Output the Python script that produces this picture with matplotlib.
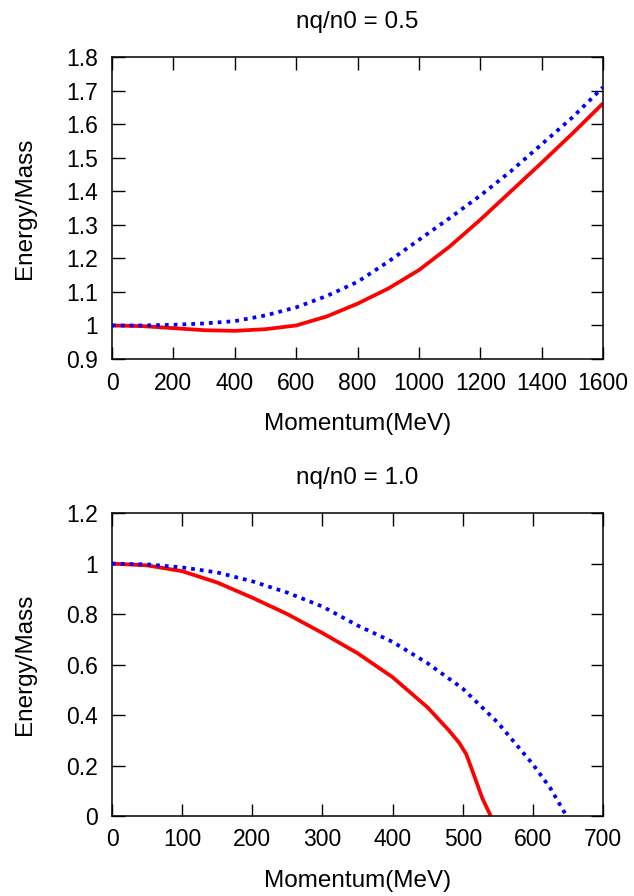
import matplotlib
matplotlib.use("Agg")
import matplotlib.pyplot as plt
from matplotlib.ticker import FuncFormatter

plt.rcParams['font.family'] = ['Liberation Sans', 'DejaVu Sans']

# Top panel (nq/n0 = 0.5)
p_top = [0, 100, 200, 300, 400, 500, 600, 700, 800, 900, 1000, 1100, 1200, 1300, 1400, 1500, 1600]
red_top = [1.0, 0.998, 0.992, 0.986, 0.984, 0.989, 1.0, 1.027, 1.065, 1.11, 1.165, 1.235, 1.315, 1.40, 1.485, 1.572, 1.662]
blue_top = [1.0, 1.0, 1.002, 1.006, 1.013, 1.03, 1.054, 1.088, 1.13, 1.19, 1.255, 1.32, 1.387, 1.46, 1.54, 1.62, 1.71]

# Bottom panel (nq/n0 = 1.0)
p_red_bot = [0, 50, 100, 150, 200, 250, 300, 350, 400, 450, 480, 495, 505, 515, 528, 540]
red_bot = [1.0, 0.993, 0.97, 0.925, 0.865, 0.8, 0.725, 0.645, 0.55, 0.43, 0.34, 0.29, 0.245, 0.17, 0.07, 0.0]
p_blue_bot = [0, 50, 100, 150, 200, 250, 300, 350, 400, 450, 500, 550, 600, 625, 648]
blue_bot = [1.0, 0.997, 0.985, 0.965, 0.93, 0.885, 0.83, 0.755, 0.69, 0.605, 0.505, 0.37, 0.205, 0.11, 0.0]

titles = ["nq/n0 = 0.5", "nq/n0 = 1.0"]
xlabel = "Momentum(MeV)"
ylabel = "Energy/Mass"

fig = plt.figure(figsize=(6.34, 8.96), dpi=100)
ax1 = fig.add_axes([0.1767, 0.5993, 0.7744, 0.337])
ax2 = fig.add_axes([0.1767, 0.0893, 0.7744, 0.338])

tick_fs = 16.5
label_fs = 17.5
title_fs = 17.5
lw = 2.7
dot = (0, (1, 1.35))

ax1.plot(p_top, red_top, color='#ff0000', lw=lw, solid_capstyle='butt', solid_joinstyle='round', zorder=2)
ax1.plot(p_top, blue_top, color='#0000ff', lw=lw, linestyle=dot, zorder=3)
ax1.set_xlim(0, 1600)
ax1.set_ylim(0.9, 1.8)
ax1.set_xticks(range(0, 1601, 200))
ax1.set_yticks([0.9 + 0.1 * i for i in range(10)])

ax2.plot(p_red_bot, red_bot, color='#ff0000', lw=lw, solid_capstyle='butt', solid_joinstyle='round', zorder=2)
ax2.plot(p_blue_bot, blue_bot, color='#0000ff', lw=lw, linestyle=dot, zorder=3)
ax2.set_xlim(0, 700)
ax2.set_ylim(0, 1.2)
ax2.set_xticks(range(0, 701, 100))
ax2.set_yticks([0.2 * i for i in range(7)])

fmt = FuncFormatter(lambda v, pos: ('%.1f' % v).rstrip('0').rstrip('.') if abs(v - round(v)) > 1e-9 else '%d' % round(v))

for ax, t in zip([ax1, ax2], titles):
    ax.set_title(t, fontsize=title_fs, pad=21)
    ax.set_xlabel(xlabel, fontsize=label_fs, labelpad=13)
    ax.set_ylabel(ylabel, fontsize=label_fs, labelpad=22)
    ax.tick_params(direction='in', length=9, width=1.0, top=True, right=True,
                   labelsize=tick_fs, color='black')
    ax.tick_params(axis='x', pad=9)
    ax.tick_params(axis='y', pad=10)
    ax.yaxis.set_major_formatter(fmt)
    for s in ax.spines.values():
        s.set_linewidth(1.1)
        s.set_color('black')

fig.savefig("out.png", dpi=100)
